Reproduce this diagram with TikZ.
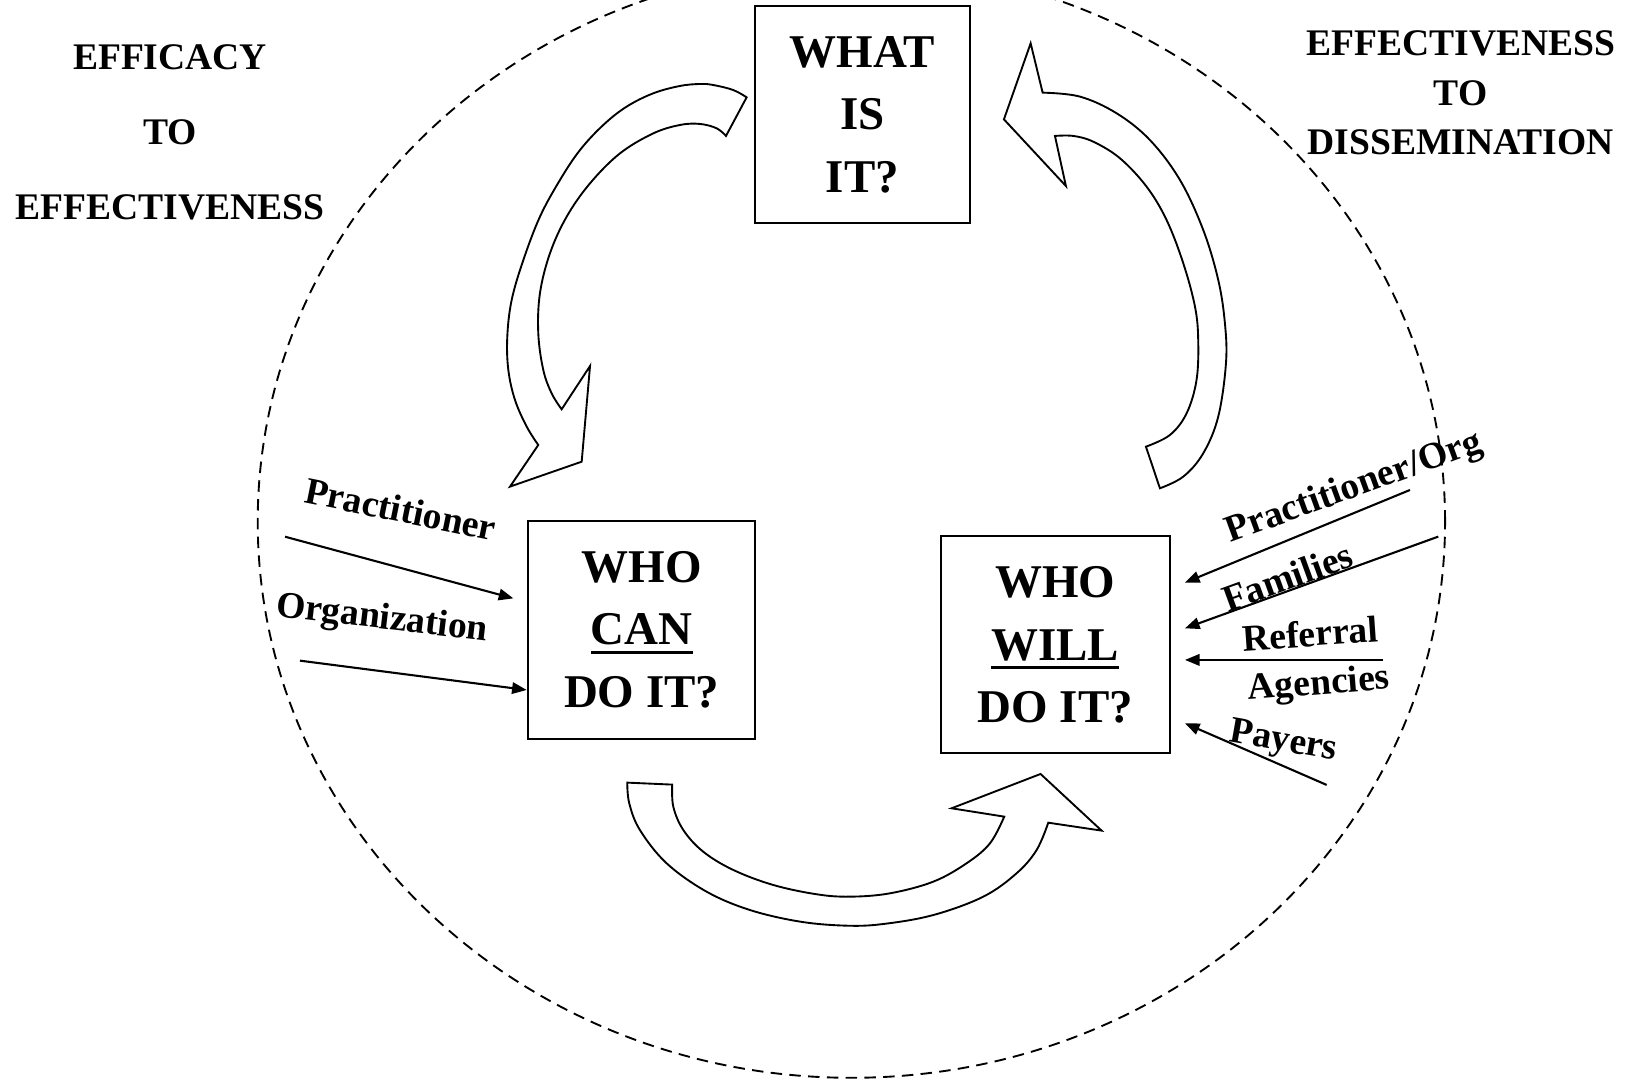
\documentclass[tikz,border=0pt]{standalone}
\usepackage{fontspec}
\setmainfont{Liberation Serif}
\usetikzlibrary{arrows.meta}
\newcommand\myul[1]{\setbox0\hbox{#1}\rlap{\rule[-4.2pt]{\wd0}{1.4pt}}\box0}
\begin{document}
\begin{tikzpicture}[x=0.5pt,y=-0.5pt,
  qbox/.style={draw, line width=1pt, inner sep=0pt, align=center, font=\fontsize{22.5}{30}\selectfont\bfseries},
  lbl/.style={font=\fontsize{18}{20}\selectfont\bfseries, inner sep=0pt},
  head/.style={font=\fontsize{18}{#1}\selectfont\bfseries, align=center, inner sep=0pt},
  feed/.style={line width=1pt, -{Triangle[length=7pt,width=5.5pt]}},
  blockarrow/.style={draw, line width=0.9pt, line join=miter, fill=white}
]
\useasboundingbox (0,0) rectangle (1568,1036);
\begin{scope}
\clip (0,0) rectangle (1568,1036);
\draw[line width=0.9pt, dash pattern=on 5.5pt off 3.5pt] (816,500) ellipse [x radius=284.5pt, y radius=266.5pt];
\end{scope}

% headings
\node[head=36pt] (lefthead) at (163,127) {EFFICACY\\TO\\EFFECTIVENESS};
\node[head=23.75pt] (righthead) at (1400,89) {EFFECTIVENESS\\TO\\DISSEMINATION};

% boxes
\node[qbox, minimum width=103pt, minimum height=104pt] (what) at (826.6,110) {WHAT\\IS\\IT?};
\node[qbox, minimum width=109pt, minimum height=104.5pt] (can) at (615,603.5) {WHO\\\myul{CAN}\\DO IT?};
\node[qbox, minimum width=109.5pt, minimum height=104pt] (will) at (1011.5,618) {WHO\\\myul{WILL}\\DO IT?};

% block arrows
\draw[blockarrow] plot[smooth, tension=0.6] coordinates {(715.6,93.3) (702.8,86.3) (683.7,81.5) (670.9,80.5) (651.7,82.4) (626.2,89.4) (600.6,102.2) (578.2,119.8) (555.9,143.8) (536.7,172.5) (517.5,207.7) (501.6,249.2) (490.4,287.5) (486.2,322.7) (487.2,354.6) (493.6,383.4) (504.8,408.9) (515.9,426.5)}
  -- (488.8,466.4) -- (557.5,442.5) -- (565.5,350.8)
  -- plot[smooth, tension=0.6] coordinates {(538.3,392.3) (528.7,377.0) (520.7,354.6) (515.9,319.5) (517.5,281.1) (527.1,242.8) (543.1,207.7) (565.5,175.7) (594.2,147.0) (626.2,127.8) (651.7,119.8) (670.9,118.8) (686.9,123.0) (695.8,130.3)}
  -- cycle;

\draw[blockarrow] (987.8,41.5) -- (962.2,114.4) -- (1021.6,178.3)
  -- plot[smooth, tension=0.6] coordinates {(1011.1,130.3) (1028.7,130.3) (1047.8,135.8) (1073.4,151.7) (1098.9,178.9) (1118.1,210.9) (1134.1,252.4) (1145.3,293.9) (1148.4,325.9) (1146.8,364.2) (1137.3,396.1) (1121.3,416.9) (1098.3,428.1)}
  -- plot[smooth, tension=0.6] coordinates {(1111.7,468.0) (1134.1,456.8) (1153.2,434.5) (1167.6,399.3) (1175.0,348.2) (1174.0,309.9) (1167.6,268.4) (1153.2,220.4) (1130.9,172.5) (1102.1,134.2) (1070.2,108.6) (1035.0,92.6) (999.3,88.8)}
  -- cycle;

\draw[blockarrow] (601.2,750.1) -- (644.3,752.0)
  -- plot[smooth, tension=0.6] coordinates {(644.3,752.0) (645.3,773.1) (654.9,795.5) (674.0,816.3) (702.8,833.8) (741.1,848.2) (782.7,857.1) (814.6,859.4) (852.9,856.2) (894.5,845.0) (926.4,827.4) (948.8,808.3) (962.5,782.7)}
  -- (912.0,774.7) -- (997.3,741.8) -- (1055.8,796.1)
  -- plot[smooth, tension=0.6] coordinates {(1004.7,788.5) (993.5,814.7) (974.3,837.0) (942.4,859.4) (894.5,877.0) (846.5,885.6) (811.4,887.2) (766.7,883.3) (718.8,872.2) (677.2,854.6) (638.9,827.4) (613.3,795.5) (603.1,769.9) (601.2,750.1)}
  -- cycle;

% feeding arrows left
\coordinate (pa) at (273.2,514.4);
\coordinate (pb) at (492.0,573.5);
\coordinate (oa) at (287.5,633.2);
\coordinate (ob) at (504.8,661.3);
\draw[feed] (pa) -- (pb);
\draw[feed] (oa) -- (ob);
\node[lbl, rotate=-11.5] (lprac) at (384,488) {Practitioner};
\node[lbl, rotate=-6.7] (lorg) at (366,594) {Organization};

% feeding arrows right
\coordinate (r1a) at (1351.4,469.6);
\coordinate (r1b) at (1135.7,558.4);
\coordinate (r2a) at (1378.5,514.3);
\coordinate (r2b) at (1135.7,602.2);
\coordinate (r3a) at (1325.8,632.5);
\coordinate (r3b) at (1135.7,632.5);
\coordinate (r4a) at (1271.5,752.3);
\coordinate (r4b) at (1135.7,693.2);
\draw[feed] (r1a) -- (r1b);
\draw[feed] (r2a) -- (r2b);
\draw[feed] (r3a) -- (r3b);
\draw[feed] (r4a) -- (r4b);
\node[lbl, rotate=20] (rprac) at (1298,468) {Practitioner/Org};
\node[lbl, rotate=20] (rfam) at (1234,553) {Families};
\node[lbl, rotate=4] (rref) at (1256,607) {Referral};
\node[lbl, rotate=4.5] (rag) at (1264,657) {Agencies};
\node[lbl, rotate=-10] (rpay) at (1230,712) {Payers};
\end{tikzpicture}
\end{document}
